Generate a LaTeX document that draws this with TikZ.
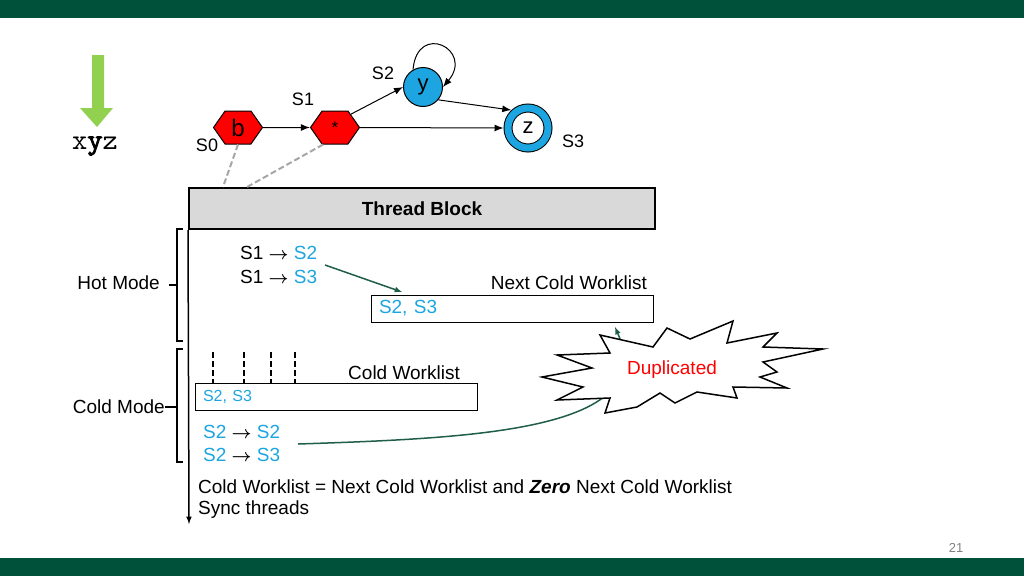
\documentclass[tikz,border=0pt]{standalone}
\usepackage{fontspec}
\setmainfont{Liberation Sans}
\newfontfamily\xyzfont{lmmono10-regular.otf}[AutoFakeBold=3]
\usepackage{tikz}
\usetikzlibrary{arrows,arrows.meta,calc,shapes.geometric,shapes.symbols,positioning}
\definecolor{bandgreen}{HTML}{00513A}
\definecolor{cblue}{HTML}{1CA5E0}
\definecolor{hexred}{HTML}{FF0000}
\definecolor{arrgreen}{HTML}{1F5E48}
\definecolor{limegreen}{HTML}{92D050}
\definecolor{tbgray}{HTML}{D9D9D9}
\definecolor{dashgray}{HTML}{A6A6A6}
\newcommand{\fs}[1]{\fontsize{#1}{#1}\selectfont}
\newcommand{\ar}{\ {\boldmath$\rightarrow$}\ }

\begin{document}
\begin{tikzpicture}[x=1pt,y=-1pt,
    lbl/.style={font=\fs{19}, inner sep=0pt},
    statelbl/.style={font=\fs{18}, inner sep=0pt},
    hexstate/.style={signal, signal to=east and west, signal pointer angle=110,
        fill=hexred, draw=black, line width=1pt, minimum width=49pt,
        minimum height=33pt, inner sep=0pt},
    listbox/.style={draw=black, line width=1pt, minimum height=27pt,
        text width=266pt, align=left, inner xsep=8pt, inner ysep=0pt},
    edge/.style={-{Latex[length=9pt,width=7pt]}, line width=1pt}]
    \useasboundingbox (0,0) rectangle (1024,576);
    % bands
    \fill[bandgreen] (0,0) rectangle (1024,18);
    \fill[bandgreen] (0,558) rectangle (1024,576);
    \node[font=\fs{13}, text=gray] (page) at (956,548) {21};

    % input string
    \fill[limegreen] (92,55) -- (104,55) -- (104,108) -- (113,108) -- (97,127)
        -- (80,108) -- (92,108) -- cycle;
    \node[font=\xyzfont\fs{29}, inner sep=0pt, anchor=base] (input) at (95,149) {x\textbf{y}z};

    % automaton
    \node[hexstate, font=\fs{24}] (b) at (238,127.5) {b};
    \node[hexstate, font=\fs{17}] (star) at (335,127.5) {*};
    \node[circle, fill=cblue, draw=black, line width=1pt, minimum size=39pt,
        inner sep=0pt, font=\fs{22}] (y) at (423,87) {y};
    \node[circle, fill=white, draw=black, line width=1pt, double=cblue,
        double distance=7pt, minimum size=40pt, inner sep=0pt, outer sep=4.5pt,
        font=\fs{22}] (z) at (528,128) {z};
    \node[statelbl] (s0) at (207,145) {S0};
    \node[statelbl] (s1) at (303,99) {S1};
    \node[statelbl] (s2) at (383,73) {S2};
    \node[statelbl] (s3) at (573,141) {S3};
    \draw[edge] (b) -- (star);
    \draw[edge] (star.40) -- (y.west);
    \draw[edge] (star.east) -- (z.west);
    \draw[edge] (y.-40) -- (z.133);
    \draw[edge] (y.120) to[out=85, in=50, looseness=3.6] (y.0);

    % thread block
    \node[draw=black, line width=2pt, fill=tbgray, minimum width=466pt,
        minimum height=41pt, font=\bfseries\fs{19}] (tb) at (422,208.5) {Thread Block};
    \draw[dashgray, dash pattern=on 6pt off 3pt, line width=2pt] (b.south) -- (223,187);
    \draw[dashgray, dash pattern=on 6pt off 3pt, line width=2pt] (star.-125) -- (247,187);
    \coordinate (tend) at (189,524);
    \draw[-latex, line width=1.5pt] (tb.south west) -- (tend);

    % hot mode
    \draw[line width=1.5pt] (183,229) -- (177,229) -- (177,341) -- (183,341);
    \coordinate (hotmid) at (177,285);
    \node[lbl, anchor=east] (hot) at (160,283) {Hot Mode};
    \draw[line width=1.5pt] (hot.east) ++(9,2) -- (hotmid);
    \node[lbl, anchor=west] (hot1) at (240,253) {S1\ar\textcolor{cblue}{S2}};
    \node[lbl, anchor=west] (hot2) at (240,277) {S1\ar\textcolor{cblue}{S3}};
    \node[lbl, anchor=east] (ncwlbl) at (647,283) {Next Cold Worklist};
    \node[listbox, font=\fs{19}, text=cblue] (ncw) at (512,308.5) {S2, S3};
    \coordinate (hotfrom) at (325,265);
    \coordinate (hotto) at (402,292);
    \draw[-latex, arrgreen, line width=1.5pt] (hotfrom) -- (hotto);

    % cold mode
    \draw[line width=1.5pt] (183,349) -- (177,349) -- (177,462) -- (183,462);
    \coordinate (coldmid) at (177,407);
    \node[lbl, anchor=east] (cold) at (165,407) {Cold Mode};
    \draw[line width=1.5pt] (cold.east) -- (coldmid);
    \foreach \x in {213,244,271,295}
        \draw[dash pattern=on 6pt off 3pt, line width=1.5pt] (\x,352) -- (\x,383);
    \node[lbl, anchor=east] (cwlbl) at (460,373) {Cold Worklist};
    \node[listbox, font=\fs{16}, text=cblue] (cw) at (336,396.5) {S2, S3};
    \node[lbl, anchor=west, text=cblue] (cold1) at (203,432) {S2\textcolor{black}{\ar}S2};
    \node[lbl, anchor=west, text=cblue] (cold2) at (203,455) {S2\textcolor{black}{\ar}S3};
    \node[font=\fs{19}, inner sep=0pt, anchor=west] (swap) at (198,487)
        {Cold Worklist = Next Cold Worklist and \textbf{\textit{Zero}} Next Cold Worklist};
    \node[font=\fs{19}, inner sep=0pt, anchor=west] (sync) at (198,510) {Sync threads};

    % duplicate check
    \coordinate (dupfrom) at (298,444);
    \coordinate (dupto) at (615,327);
    \draw[-latex, arrgreen, line width=1.5pt] (dupfrom) .. controls (480,438) and (660,430) .. (dupto);
    \filldraw[fill=white, draw=black, line width=1.5pt]
        (542,377) -- (592,368) -- (557,355) -- (610,353) -- (600,335) -- (653,347)
        -- (667,328) -- (690,339) -- (733,321) -- (727,343) -- (777,333)
        -- (763,347) -- (823,349) -- (763,362) -- (777,372) -- (760,377)
        -- (787,388) -- (733,387) -- (737,398) -- (697,392) -- (675,403)
        -- (660,393) -- (637,407) -- (605,413) -- (610,398) -- (557,400)
        -- (583,387) -- cycle;
    \node[font=\fs{19}, text=red, inner sep=0pt] (dup) at (672,370) {Duplicated};
\end{tikzpicture}
\end{document}
